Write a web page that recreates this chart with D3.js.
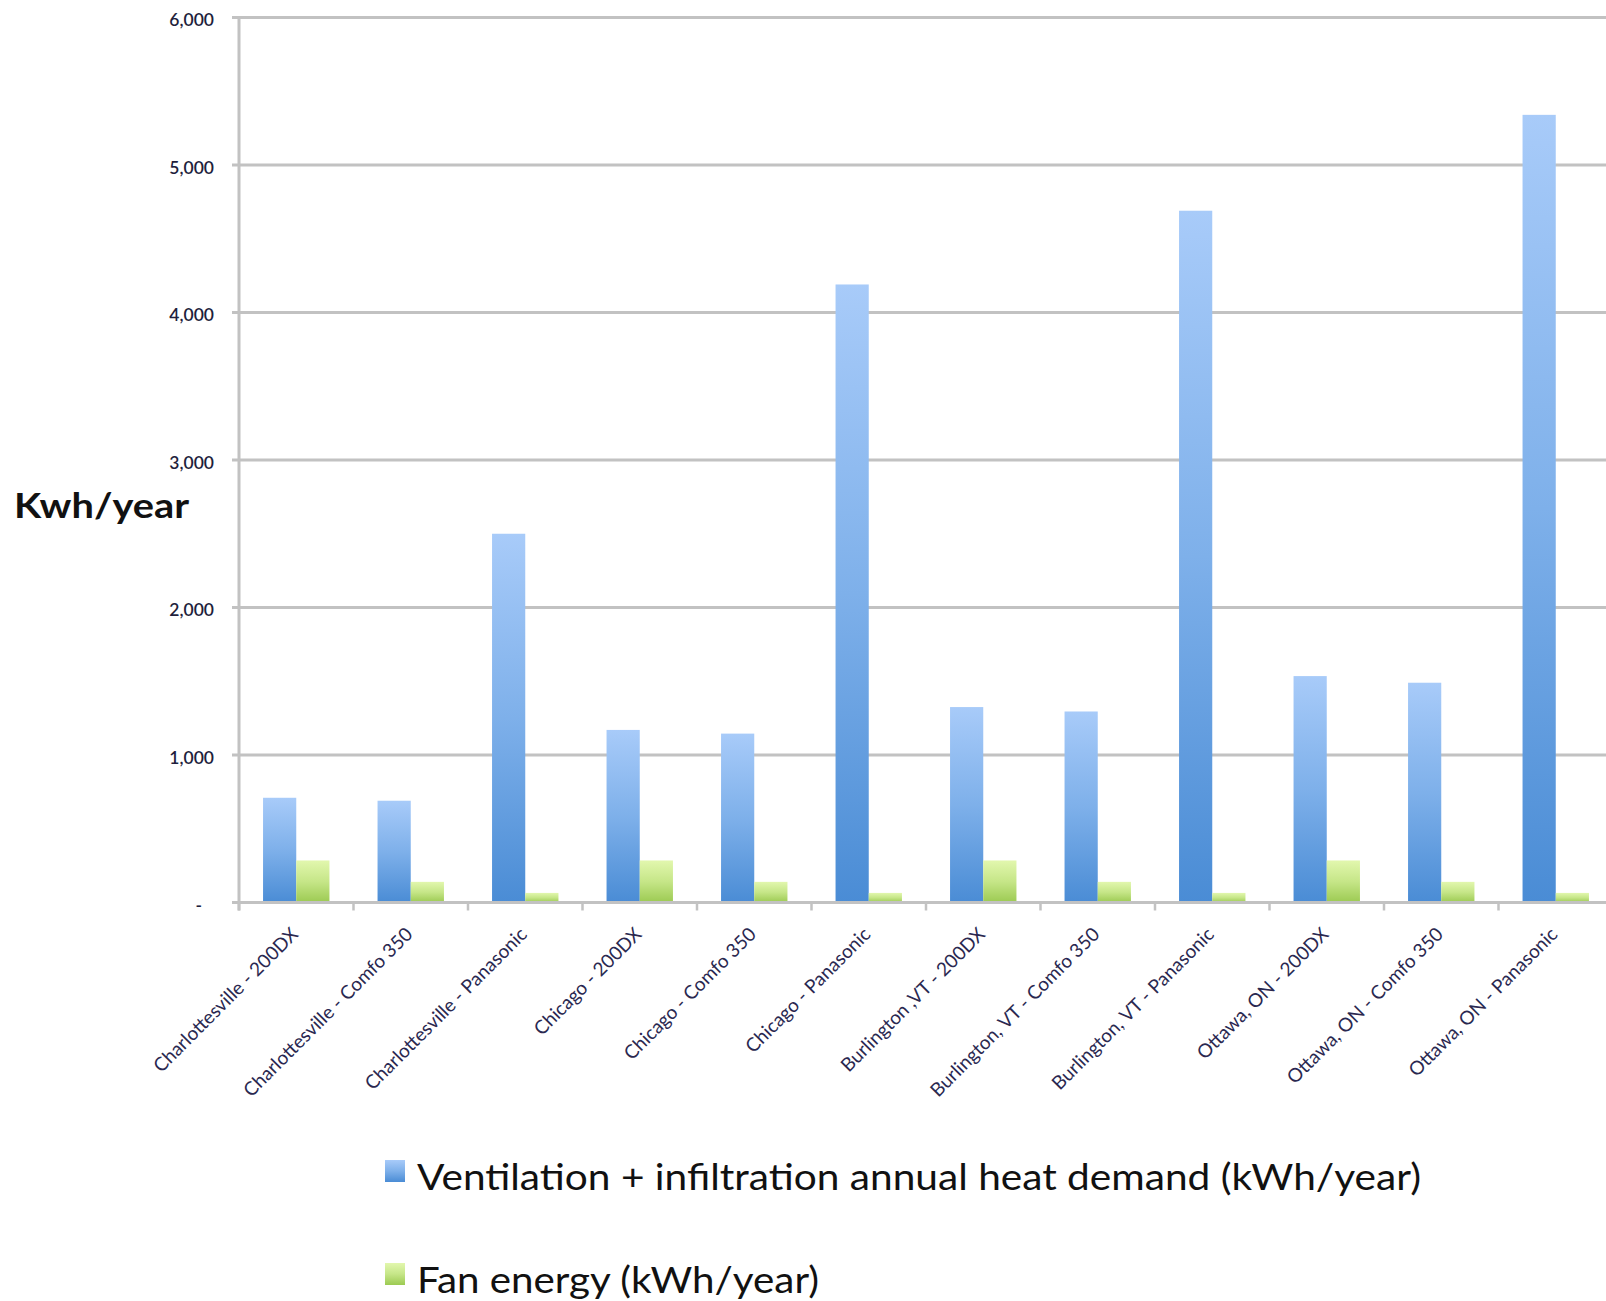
<!DOCTYPE html>
<html>
<head>
<meta charset="utf-8">
<script src="https://cdn.jsdelivr.net/npm/d3@7"></script>
<style>
  html, body { margin: 0; padding: 0; background: #ffffff; }
  svg { display: block; font-family: Lato, "Open Sans", "DejaVu Sans", sans-serif; }
</style>
</head>
<body>
<svg id="chart" width="1606" height="1301"></svg>
<script>
// Categories: location - ventilation unit
const categories = [
  "Charlottesville - 200DX",
  "Charlottesville - Comfo 350",
  "Charlottesville - Panasonic",
  "Chicago - 200DX",
  "Chicago - Comfo 350",
  "Chicago - Panasonic",
  "Burlington ,VT - 200DX",
  "Burlington, VT - Comfo 350",
  "Burlington, VT - Panasonic",
  "Ottawa, ON - 200DX",
  "Ottawa, ON - Comfo 350",
  "Ottawa, ON - Panasonic"
];

// Ventilation + infiltration annual heat demand (kWh/year)
const heatDemand = [710, 690, 2500, 1170, 1145, 4190, 1325, 1295, 4690, 1535, 1490, 5340];

// Fan energy (kWh/year)
const fanEnergy = [285, 140, 65, 285, 140, 65, 285, 140, 65, 285, 140, 65];

const seriesNames = [
  "Ventilation + infiltration annual heat demand (kWh/year)",
  "Fan energy (kWh/year)"
];

const yTicks = [0, 1000, 2000, 3000, 4000, 5000, 6000];
const yTitle = "Kwh/year";

// ---- layout (plot runs past the right edge of the canvas) ----
const plot = { left: 239, right: 239 + 12 * 114.5, top: 17.5, bottom: 902.5 };

const svg = d3.select("#chart");

// gradients for bars
const defs = svg.append("defs");
function vGrad(id, top, mid, bottom) {
  const g = defs.append("linearGradient").attr("id", id)
    .attr("x1", 0).attr("y1", 0).attr("x2", 0).attr("y2", 1);
  g.append("stop").attr("offset", "0%").attr("stop-color", top);
  g.append("stop").attr("offset", "50%").attr("stop-color", mid);
  g.append("stop").attr("offset", "100%").attr("stop-color", bottom);
}
vGrad("gBlue", "#a8cbf9", "#7eb0ea", "#4a8cd5");
vGrad("gGreen", "#e2f7ae", "#c6e688", "#9cca52");
const fills = ["url(#gBlue)", "url(#gGreen)"];

// scales
const x0 = d3.scaleBand()
  .domain(categories)
  .range([plot.left, plot.right])
  .paddingInner(0.42)
  .paddingOuter(0.21);

const x1 = d3.scaleBand()
  .domain([0, 1])
  .range([0, x0.bandwidth()])
  .padding(0);

const y = d3.scaleLinear()
  .domain([0, 6000])
  .range([plot.bottom, plot.top]);

const gridColor = "#c2c2c2";

// horizontal gridlines
svg.append("g")
  .selectAll("line")
  .data(yTicks.filter(d => d > 0))
  .join("line")
  .attr("x1", plot.left - 7)
  .attr("x2", 1606)
  .attr("y1", d => y(d))
  .attr("y2", d => y(d))
  .attr("stroke", gridColor)
  .attr("stroke-width", 3);

// y axis labels
const yAxis = svg.append("g")
  .attr("transform", `translate(${plot.left},0)`)
  .call(d3.axisLeft(y)
    .tickValues(yTicks)
    .tickSize(0)
    .tickPadding(25)
    .tickFormat(d => d === 0 ? "-" : d3.format(",")(d)));
yAxis.select(".domain").remove();
yAxis.selectAll("text")
  .attr("font-family", "Lato, sans-serif")
  .attr("font-size", 17.5)
  .attr("font-weight", 600)
  .attr("fill", "#1f1f3d")
  .attr("dy", "0.65em")
  .attr("y", 0)
  .attr("transform", "translate(0,-3)");
yAxis.selectAll(".tick")
  .filter(d => d === 0)
  .select("text")
  .attr("dx", -12);

// y axis title
svg.append("text")
  .attr("x", 14)
  .attr("y", 518)
  .attr("font-family", "Lato, sans-serif")
  .attr("font-size", 35)
  .attr("font-weight", 700)
  .attr("fill", "#111111")
  .attr("textLength", 175)
  .attr("lengthAdjust", "spacingAndGlyphs")
  .text(yTitle);

// bars
const groups = svg.append("g")
  .selectAll("g")
  .data(categories)
  .join("g")
  .attr("transform", d => `translate(${x0(d)},0)`);

groups.selectAll("rect")
  .data((d, i) => [heatDemand[i], fanEnergy[i]])
  .join("rect")
  .attr("x", (d, j) => x1(j))
  .attr("width", x1.bandwidth())
  .attr("y", d => y(d))
  .attr("height", d => y(0) - y(d))
  .attr("fill", (d, j) => fills[j]);

// vertical axis line
svg.append("line")
  .attr("x1", plot.left).attr("x2", plot.left)
  .attr("y1", plot.top - 1).attr("y2", plot.bottom + 8)
  .attr("stroke", gridColor)
  .attr("stroke-width", 3);

// bottom axis with category labels
const xAxis = svg.append("g")
  .attr("transform", `translate(0,${plot.bottom})`)
  .call(d3.axisBottom(x0).tickSize(0).tickPadding(0));
xAxis.select(".domain").remove();
xAxis.selectAll("text")
  .attr("font-family", "Lato, sans-serif")
  .attr("font-size", 19)
  .attr("fill", "#2a2850")
  .attr("text-anchor", "end")
  .attr("dy", "0")
  .attr("y", 0)
  .attr("transform", "translate(3,33) rotate(-45)");

svg.append("line")
  .attr("x1", plot.left - 7).attr("x2", 1606)
  .attr("y1", plot.bottom).attr("y2", plot.bottom)
  .attr("stroke", gridColor)
  .attr("stroke-width", 3);

// category boundary ticks
svg.append("g")
  .selectAll("line")
  .data(d3.range(categories.length + 1).map(i => plot.left + i * x0.step()))
  .join("line")
  .attr("x1", d => d).attr("x2", d => d)
  .attr("y1", plot.bottom).attr("y2", plot.bottom + 8)
  .attr("stroke", gridColor)
  .attr("stroke-width", 2.5);

// legend
const legend = svg.append("g");
const legendRows = [
  { name: seriesNames[0], fill: fills[0], y: 1190, len: 1004 },
  { name: seriesNames[1], fill: fills[1], y: 1293, len: 402 }
];
legendRows.forEach(r => {
  legend.append("rect")
    .attr("x", 385).attr("y", r.y - 30)
    .attr("width", 20).attr("height", 22)
    .attr("fill", r.fill);
  legend.append("text")
    .attr("x", 417).attr("y", r.y)
    .attr("font-family", "Lato, sans-serif")
    .attr("font-size", 37)
    .attr("fill", "#111111")
    .attr("textLength", r.len)
    .attr("lengthAdjust", "spacingAndGlyphs")
    .text(r.name);
});
</script>
</body>
</html>
